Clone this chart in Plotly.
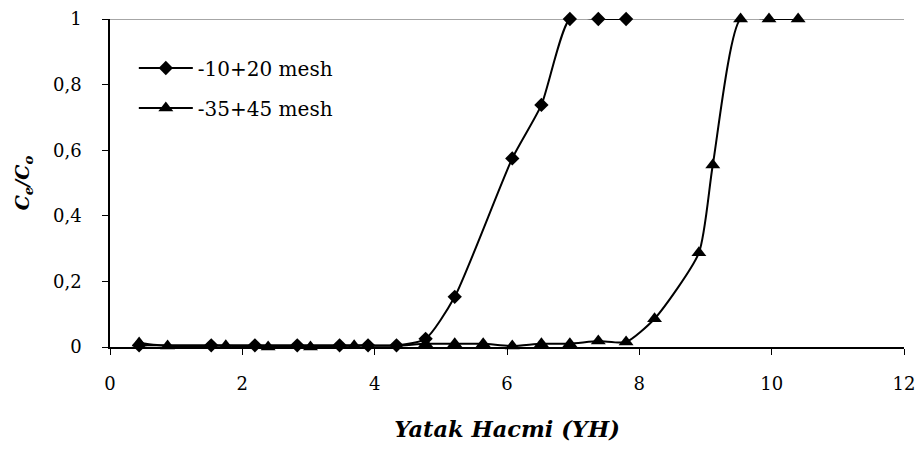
import plotly.graph_objects as go

# Series 1: -10+20 mesh
x1 = [0.44, 1.53, 2.19, 2.83, 3.47, 3.90, 4.33, 4.77, 5.21, 6.08, 6.52, 6.95, 7.38, 7.80]
y1 = [0.005, 0.005, 0.005, 0.005, 0.005, 0.005, 0.005, 0.025, 0.153, 0.575, 0.738, 1.0, 1.0, 1.0]

# Series 2: -35+45 mesh
x2 = [0.44, 0.87, 1.75, 2.39, 3.03, 3.69, 4.33, 4.77, 5.21, 5.64, 6.08, 6.52, 6.95, 7.38, 7.80,
      8.23, 8.90, 9.11, 9.53, 9.96, 10.40]
y2 = [0.012, 0.003, 0.004, 0.0, 0.0, 0.004, 0.004, 0.01, 0.01, 0.01, 0.003, 0.01, 0.01, 0.018, 0.015,
      0.086, 0.287, 0.555, 1.0, 1.0, 1.0]

names = ["-10+20 mesh", "-35+45 mesh"]
x_ticks = [0, 2, 4, 6, 8, 10, 12]
y_ticks = [0, 0.2, 0.4, 0.6, 0.8, 1]

font_family = "DejaVu Serif"

fig = go.Figure()
fig.add_trace(go.Scatter(
    x=x1, y=y1, name=names[0], mode="lines+markers", legendgroup="a", cliponaxis=False,
    line=dict(color="black", width=2, shape="spline", smoothing=0.6),
    marker=dict(symbol="diamond", size=11, color="black"),
))
fig.add_trace(go.Scatter(
    x=x2, y=y2, name=names[1], mode="lines+markers", legendgroup="b", cliponaxis=False,
    line=dict(color="black", width=2, shape="spline", smoothing=0.6),
    marker=dict(symbol="triangle-up", size=13, color="black"),
))

# gray top gridline at y = 1
fig.add_shape(type="line", xref="paper", yref="y", x0=0, x1=1, y0=1, y1=1,
              line=dict(color="#888888", width=1.5), layer="below")

fig.update_layout(
    width=908, height=434,
    margin=dict(l=102, r=12, t=11, b=95, autoexpand=False),
    paper_bgcolor="white", plot_bgcolor="white",
    separators=",.",
    font=dict(family=font_family, size=18, color="black"),
    showlegend=True,
    legend=dict(
        x=0.03, y=0.91, xanchor="left", yanchor="top", itemwidth=54,
        bgcolor="rgba(0,0,0,0)", font=dict(family=font_family, size=20, color="black"),
        traceorder="grouped", tracegroupgap=11,
    ),
    xaxis=dict(
        range=[0, 12], tickvals=x_ticks, ticks="outside", ticklen=6, tickcolor="black",
        showline=True, linecolor="black", linewidth=1.5, showgrid=False, zeroline=False,
        tickfont=dict(family=font_family, size=18), automargin=False,
        ticklabelstandoff=14, ticklabeloverflow="allow",
        title=dict(text="<b><i>Yatak Hacmi (YH)</i></b>",
                   font=dict(family=font_family, size=22.5), standoff=28),
    ),
    yaxis=dict(
        range=[0, 1], tickvals=y_ticks, ticks="outside", ticklen=6, tickcolor="black",
        showline=True, linecolor="black", linewidth=1.5, showgrid=False, zeroline=False,
        tickfont=dict(family=font_family, size=18), tickformat=".1~f", automargin=False,
        ticklabelstandoff=17, ticklabeloverflow="allow",
        title=dict(text="<b><i>C<sub>e</sub>/C<sub>o</sub></i></b>",
                   font=dict(family=font_family, size=19), standoff=18),
    ),
)

fig.write_html("out.html")
